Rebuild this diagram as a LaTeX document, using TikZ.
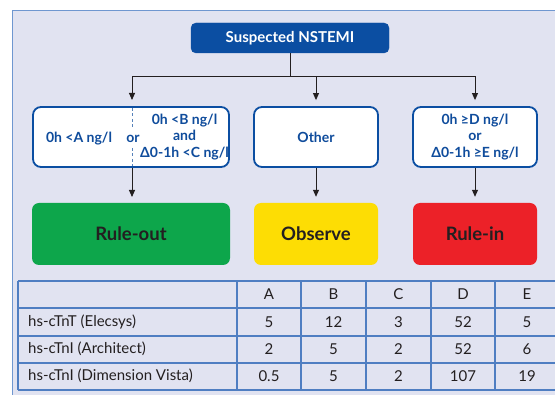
\documentclass[tikz,border=0pt]{standalone}
\usepackage{fontspec}
\setmainfont{Lato}
\usetikzlibrary{arrows.meta}

\definecolor{panelfill}{HTML}{E1E3F1}
\definecolor{panelline}{HTML}{6F97D0}
\definecolor{navy}{HTML}{0B4EA2}
\definecolor{textblue}{HTML}{0F4C9C}
\definecolor{gridline}{HTML}{4F7EC2}
\definecolor{ink}{HTML}{231F20}
\definecolor{goodgreen}{HTML}{0DA64B}
\definecolor{waityellow}{HTML}{FDDD04}
\definecolor{badred}{HTML}{EC2128}

\begin{document}
\begin{tikzpicture}
          [x=1pt,y=-1pt,
           start/.style={draw=navy,fill=navy,rounded corners=5pt,text=white,font=\bfseries\fontsize{15}{17}\selectfont,minimum height=30pt},
           crit/.style={draw=navy,line width=1.8pt,fill=white,rounded corners=8pt,text=textblue,font=\bfseries\fontsize{14}{16.5}\selectfont,align=center,minimum height=60pt},
           crittext/.style={text=textblue,font=\bfseries\fontsize{14}{16.5}\selectfont,align=center,inner sep=0pt},
           verdict/.style={rounded corners=7pt,text=ink,font=\bfseries\fontsize{18.5}{20}\selectfont,minimum height=62pt},
           arr/.style={draw=ink,line width=0.9pt,-{Triangle[width=6pt,length=7pt]},shorten >=6pt},
           gridl/.style={draw=gridline,line width=1.1pt},
           cell/.style={text=ink,font=\fontsize{15}{17}\selectfont,inner sep=0pt}]

          \useasboundingbox (0,0) rectangle (555,395);
          \fill[white] (0,0) rectangle (555,395);
          \draw[draw=panelline,fill=panelfill,line width=1.3pt] (12.5,10.5) rectangle (575,415);

          \node[start,minimum width=198pt] (suspect) at (290,38) {Suspected NSTEMI};

          \node[crit,minimum width=196pt] (crit1) at (131,137) {};
          \node[crit,minimum width=124pt] (crit2) at (316,137) {Other};
          \node[crit,minimum width=124pt] (crit3) at (475,137) {0h ≥D ng/l\\or\\Δ0-1h ≥E ng/l};

          \node[crittext] (lowA) at (79,139) {0h <A ng/l};
          \node[crittext] (ortext) at (133,139) {or};
          \node[crittext] (lowBC) at (184.5,137) {0h <B ng/l\\and\\Δ0-1h <C ng/l};
          \draw[draw=textblue!70,line width=0.8pt,dash pattern=on 3pt off 2.5pt] (132,108) -- (132,129);
          \draw[draw=textblue!70,line width=0.8pt,dash pattern=on 3pt off 2.5pt] (132,148) -- (132,166);

          \node[verdict,fill=goodgreen,minimum width=198pt] (ruleout) at (131,234) {Rule-out};
          \node[verdict,fill=waityellow,minimum width=124pt] (observe) at (316,234) {Observe};
          \node[verdict,fill=badred,minimum width=124pt] (rulein) at (475,234) {Rule-in};

          \coordinate (split) at (290,76);
          \draw[draw=ink,line width=0.9pt] (suspect) -- (split);
          \draw[arr] (split) -| (132,106);
          \draw[arr] (split) -| (crit2);
          \draw[arr] (split) -| (crit3);

          \draw[arr] (132,168) -- (132,203);
          \draw[arr] (crit2) -- (observe);
          \draw[arr] (crit3) -- (rulein);

          % table
          \foreach \y in {281,308,336,363,390}
            \draw[gridl] (18,\y) -- (560,\y);
          \foreach \x in {18,237,301,366,431,495,559}
            \draw[gridl] (\x,281) -- (\x,390);

          \foreach \c/\x in {A/269,B/333.5,C/398.5,D/463,E/527}
            \node[cell] (head\c) at (\x,294.5) {\c};

          \foreach \r/\lbl/\va/\vb/\vc/\vd/\ve in
            {1/hs-cTnT (Elecsys)/5/12/3/52/5,
             2/hs-cTnI (Architect)/2/5/2/52/6,
             3/hs-cTnI (Dimension Vista)/0.5/5/2/107/19}
          {
            \node[cell,anchor=west] (name\r) at (28,{294.5+27.2*\r}) {\lbl};
            \node[cell] (val\r A) at (269,{294.5+27.2*\r}) {\va};
            \node[cell] (val\r B) at (333.5,{294.5+27.2*\r}) {\vb};
            \node[cell] (val\r C) at (398.5,{294.5+27.2*\r}) {\vc};
            \node[cell] (val\r D) at (463,{294.5+27.2*\r}) {\vd};
            \node[cell] (val\r E) at (527,{294.5+27.2*\r}) {\ve};
          }
        \end{tikzpicture}
\end{document}
